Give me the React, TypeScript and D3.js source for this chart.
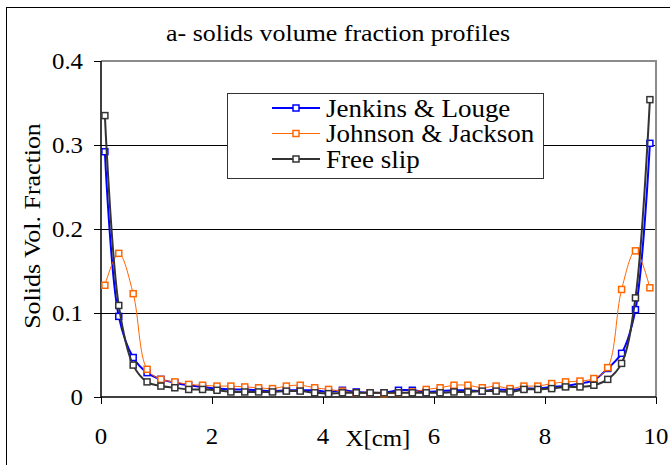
import { useEffect, useRef } from 'react';
import * as d3 from 'd3';

const xPositions = [
  0.07, 0.32, 0.58, 0.83, 1.08, 1.33, 1.58, 1.83, 2.09, 2.34,
  2.59, 2.84, 3.09, 3.34, 3.59, 3.85, 4.10, 4.35, 4.60, 4.85,
  5.10, 5.36, 5.61, 5.86, 6.11, 6.36, 6.61, 6.87, 7.12, 7.37,
  7.62, 7.87, 8.12, 8.37, 8.63, 8.88, 9.13, 9.38, 9.63, 9.89,
];

const jenkinsLouge = [
  0.292, 0.096, 0.047, 0.029, 0.021, 0.017, 0.014, 0.012, 0.010, 0.009,
  0.009, 0.008, 0.007, 0.008, 0.008, 0.008, 0.006, 0.008, 0.006, 0.005,
  0.005, 0.008, 0.008, 0.006, 0.007, 0.008, 0.008, 0.007, 0.009, 0.008,
  0.010, 0.010, 0.012, 0.013, 0.016, 0.020, 0.034, 0.052, 0.104, 0.302,
];

const johnsonJackson = [
  0.133, 0.171, 0.123, 0.033, 0.021, 0.018, 0.015, 0.014, 0.013, 0.013,
  0.012, 0.011, 0.010, 0.013, 0.014, 0.011, 0.009, 0.007, 0.005, 0.005,
  0.004, 0.005, 0.006, 0.009, 0.011, 0.014, 0.014, 0.011, 0.013, 0.010,
  0.013, 0.013, 0.016, 0.018, 0.019, 0.022, 0.035, 0.128, 0.174, 0.130,
];

const freeSlip = [
  0.335, 0.109, 0.038, 0.018, 0.013, 0.011, 0.009, 0.009, 0.008, 0.006,
  0.006, 0.006, 0.006, 0.007, 0.007, 0.005, 0.004, 0.005, 0.005, 0.005,
  0.005, 0.005, 0.005, 0.005, 0.005, 0.006, 0.006, 0.007, 0.007, 0.006,
  0.009, 0.009, 0.010, 0.012, 0.012, 0.014, 0.021, 0.040, 0.118, 0.354,
];

const seriesNames = ['Jenkins & Louge', 'Johnson & Jackson', 'Free slip'];
const xTicks = [0, 2, 4, 6, 8, 10];
const yTicks = [0, 0.1, 0.2, 0.3, 0.4];

const FONT = "'Liberation Serif', 'Times New Roman', Times, 'DejaVu Serif', serif";
const STRETCH = 1.08;

type Sel = d3.Selection<any, unknown, null, undefined>;

// text slightly widened like the original (Times-style wide glyphs)
const addText = (
  parent: Sel, x: number, y: number, str: string,
  size: number, anchor = 'start', rotate = 0, dy = '0',
) => parent.append('text')
  .attr('transform', `translate(${x},${y}) rotate(${rotate}) scale(${STRETCH},1)`)
  .attr('text-anchor', anchor)
  .attr('dy', dy)
  .style('font-family', FONT)
  .style('font-size', `${size}px`)
  .attr('fill', '#000')
  .text(str);

const App = () => {
  const svgRef = useRef<SVGSVGElement>(null);

  useEffect(() => {
    const svg = d3.select(svgRef.current) as Sel;
    svg.selectAll('*').remove();

    const x = d3.scaleLinear().domain([0, 10]).range([101, 656]);
    const y = d3.scaleLinear().domain([0, 0.4]).range([397, 61]);

    // chart frame
    svg.append('rect')
      .attr('x', 6.5).attr('y', 7.5)
      .attr('width', 700).attr('height', 500)
      .attr('fill', '#fff').attr('stroke', '#000').attr('stroke-width', 1);

    addText(svg, 338, 41, 'a- solids volume fraction profiles', 24, 'middle');

    // gridlines
    svg.append('g').selectAll('line')
      .data(yTicks.filter(d => d > 0 && d < 0.4))
      .join('line')
      .attr('x1', x(0)).attr('x2', x(10))
      .attr('y1', d => y(d) + 0.5).attr('y2', d => y(d) + 0.5)
      .attr('stroke', '#000').attr('stroke-width', 1);

    // plot border top & right
    svg.append('path')
      .attr('d', `M${x(0)},${y(0.4)}H${x(10)}V${y(0)}`)
      .attr('fill', 'none').attr('stroke', '#8c8c8c').attr('stroke-width', 2);

    // axes
    svg.append('path')
      .attr('d', `M${x(0)},${y(0.4)}V${y(0)}H${x(10)}`)
      .attr('fill', 'none').attr('stroke', '#000').attr('stroke-width', 1.5);

    svg.append('g').selectAll('line')
      .data(yTicks).join('line')
      .attr('x1', x(0) - 7).attr('x2', x(0))
      .attr('y1', d => y(d) + 0.5).attr('y2', d => y(d) + 0.5)
      .attr('stroke', '#000').attr('stroke-width', 1);

    svg.append('g').selectAll('line')
      .data(xTicks).join('line')
      .attr('x1', d => x(d) + 0.5).attr('x2', d => x(d) + 0.5)
      .attr('y1', y(0)).attr('y2', y(0) + 7)
      .attr('stroke', '#000').attr('stroke-width', 1);

    const yAxisG = svg.append('g') as Sel;
    yTicks.forEach(t => {
      addText(yAxisG, 83, y(t), t === 0 ? '0' : d3.format('.1f')(t), 23, 'end', 0, '0.34em');
    });

    const xAxisG = svg.append('g') as Sel;
    xTicks.forEach(t => {
      addText(xAxisG, x(t), 444, String(t), 23, 'middle');
    });

    addText(svg, 378, 446, 'X[cm]', 23, 'middle');
    addText(svg, 40, 226, 'Solids Vol. Fraction', 24, 'middle', -90);

    const series = [
      { name: seriesNames[0], values: jenkinsLouge, color: '#0000ff', width: 2 },
      { name: seriesNames[1], values: johnsonJackson, color: '#ff6600', width: 1 },
      { name: seriesNames[2], values: freeSlip, color: '#333333', width: 2 },
    ];

    const line = d3.line<number>()
      .x((_, i) => x(xPositions[i]))
      .y(d => y(d))
      .curve(d3.curveCatmullRom.alpha(0.5));

    series.forEach(s => {
      const g = svg.append('g');
      g.append('path')
        .attr('d', line(s.values))
        .attr('fill', 'none')
        .attr('stroke', s.color)
        .attr('stroke-width', s.width);
      g.selectAll('rect')
        .data(s.values).join('rect')
        .attr('x', (_, i) => x(xPositions[i]) - 3)
        .attr('y', d => y(d) - 3)
        .attr('width', 6).attr('height', 6)
        .attr('fill', '#fff')
        .attr('stroke', s.color)
        .attr('stroke-width', 1.5);
    });

    // legend
    const legend = svg.append('g') as Sel;
    legend.append('rect')
      .attr('x', 227.5).attr('y', 93.5)
      .attr('width', 316).attr('height', 85)
      .attr('fill', '#fff').attr('stroke', '#333').attr('stroke-width', 1);

    const rowY = d3.scalePoint<string>().domain(seriesNames).range([108, 159]);
    series.forEach(s => {
      const cy = rowY(s.name) as number;
      legend.append('line')
        .attr('x1', 272).attr('x2', 320)
        .attr('y1', cy).attr('y2', cy)
        .attr('stroke', s.color).attr('stroke-width', s.width);
      legend.append('rect')
        .attr('x', 293).attr('y', cy - 3)
        .attr('width', 6).attr('height', 6)
        .attr('fill', '#fff').attr('stroke', s.color).attr('stroke-width', 1.5);
      addText(legend, 326, cy, s.name, 25, 'start', 0, '0.34em');
    });
  }, []);

  return (
    <svg
      ref={svgRef}
      width={670}
      height={465}
      style={{ position: 'absolute', left: 0, top: 0, fontFamily: FONT }}
    />
  );
};

export default App;
